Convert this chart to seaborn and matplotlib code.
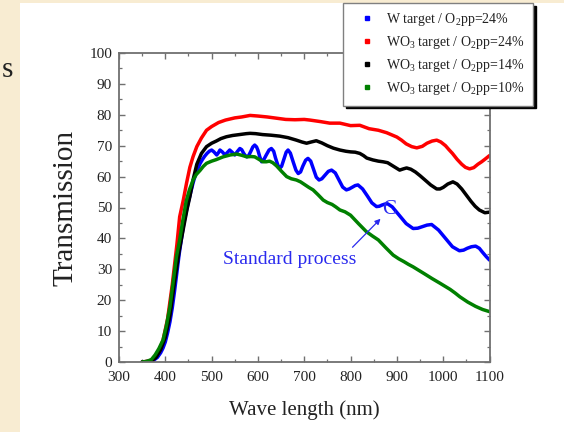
import matplotlib
matplotlib.use("Agg")
import matplotlib.pyplot as plt
from matplotlib.lines import Line2D
from matplotlib.patches import Rectangle
from matplotlib.ticker import MultipleLocator
import pandas as pd
import seaborn as sns

# ---- transmission spectra (wavelength in nm, transmission in %) ----
wl_w24 = [350, 365, 375, 383, 390, 395, 400, 405, 410, 415, 420, 425, 430, 435,
          440, 445, 450, 455, 460, 465, 470, 475, 480, 485, 490, 495, 500, 505,
          511, 515, 518, 523, 529, 534, 539, 545, 550, 556, 561, 565, 569, 573,
          576, 580, 585, 589, 593, 597, 600, 604, 608, 612, 618, 624, 629, 634,
          638, 643, 647, 651, 656, 661, 665, 670, 676, 682, 687, 692, 697, 703,
          708, 714, 720, 726, 732, 738, 745, 752, 759, 767, 775, 783, 791, 797,
          803, 810, 816, 826, 836, 846, 856, 862, 868, 874, 880, 890, 905, 920,
          935, 945, 955, 965, 975, 990, 1005, 1020, 1035, 1044, 1052, 1061, 1070,
          1078, 1085, 1093, 1100]
t_w24 = [0, 0.2, 0.6, 1.5, 3, 4.5, 6.5, 9.5, 13, 17.5, 23, 29, 35, 40,
         45, 48.5, 52, 55, 58, 60.5, 62.5, 64.2, 65.5, 66.6, 67.5, 68.2, 68.6, 68,
         67, 67.8, 68.6, 68, 67, 67.8, 68.6, 67.8, 67, 68.2, 69.1, 68.7, 67.6, 66.7,
         66.4, 66.8, 68.3, 69.6, 70.2, 69.6, 68.5, 66.4, 64.8, 65.3, 67, 68.6, 69.1, 68.2,
         66, 63.7, 62.7, 63.3, 65.6, 67.9, 68.6, 67.6, 64.8, 62.1, 61, 61.5, 63.4, 65.3,
         65.9, 65, 62.4, 59.8, 58.9, 59.3, 60.5, 61.7, 62.1, 61.2, 58.9, 56.6, 55.7, 56,
         56.5, 57.1, 57.3, 56, 53.8, 51.5, 50.3, 50.4, 50.8, 51.1, 51.2, 50.2, 47.5, 44.8,
         43.2, 43.3, 43.8, 44.3, 44.5, 42.7, 40, 37.3, 36, 36.2, 36.8, 37.3, 37.5,
         36.8, 35.5, 34.1, 33]

wl_wo3_24 = [350, 365, 375, 385, 395, 405, 415, 425, 431, 439, 446, 453, 460, 468,
             478, 489, 500, 515, 530, 550, 565, 583, 600, 620, 640, 660, 680, 700,
             712, 735, 755, 777, 800, 820, 840, 860, 878, 900, 910, 920, 932, 943,
             955, 965, 976, 986, 995, 1005, 1012, 1020, 1030, 1040, 1048, 1057, 1066,
             1075, 1083, 1090, 1100]
t_wo3_24 = [0, 0.3, 1, 3, 7, 14, 25, 38, 47, 52.5, 58, 63, 66.5, 69.7,
            72.5, 75, 76.2, 77.5, 78.3, 79, 79.3, 79.8, 79.6, 79.3, 78.9, 78.5, 78.4, 78.5,
            78.3, 77.8, 77.3, 77.3, 76.5, 76.6, 75.5, 75, 74.2, 72.8, 71.8, 70.6, 69.7, 69.3,
            69.8, 70.8, 71.5, 71.8, 71.2, 70, 68.8, 67.5, 65.6, 64, 63, 62.5, 62.9,
            64, 64.8, 65.6, 66.8]

wl_wo3_14 = [350, 370, 380, 390, 400, 410, 420, 430, 440, 447, 453, 460, 468, 478,
             489, 500, 510, 520, 532, 545, 560, 575, 583, 595, 610, 628, 647, 665,
             683, 695, 705, 715, 726, 738, 750, 763, 777, 790, 800, 810, 820, 828,
             835, 848, 860, 870, 880, 893, 906, 914, 921, 930, 940, 950, 960, 973,
             986, 993, 1000, 1010, 1021, 1030, 1040, 1050, 1060, 1069, 1078, 1090, 1100]
t_wo3_14 = [0, 0.3, 1.5, 4, 8, 15, 26, 36, 44, 49.5, 53.5, 59, 64, 67.5,
            69.7, 70.8, 71.5, 72.3, 72.9, 73.3, 73.6, 73.9, 74, 73.9, 73.6, 73.4, 73.1, 72.6,
            71.8, 71.2, 70.8, 71.2, 71.6, 70.9, 70, 69.2, 68.6, 68.2, 68, 67.9, 67.5, 66.8,
            66, 65.4, 65, 64.8, 64.5, 63.3, 62.1, 62.5, 62.8, 62.4, 61.5, 60.3, 59, 57.3,
            56, 56, 56.5, 57.6, 58.3, 57.6, 56, 54, 52, 50.4, 49.2, 48.3, 48.5]

wl_wo3_10 = [350, 360, 370, 378, 386, 395, 402, 410, 417, 424, 431, 438, 445, 452,
             460, 467, 475, 482, 489, 500, 510, 525, 540, 554, 565, 576, 585, 593,
             602, 611, 618, 625, 632, 640, 651, 662, 672, 683, 692, 700, 710, 719,
             730, 741, 750, 760, 768, 777, 788, 800, 817, 834, 847, 860, 876, 892,
             904, 915, 925, 935, 948, 960, 976, 993, 1004, 1015, 1026, 1036, 1053,
             1070, 1085, 1100]
t_wo3_10 = [0, 0.2, 0.8, 2.3, 4.3, 7.1, 11.5, 17.9, 26, 34.1, 39.5, 46, 52, 55.7,
            58.9, 60.7, 62, 63.3, 64.3, 65, 65.5, 66.4, 67, 67.3, 66.9, 66.4, 66.5, 66.4,
            65.6, 64.8, 64.8, 65, 64.5, 63.5, 61.7, 60, 59.3, 58.9, 58.3, 57.5, 56.5, 55.7,
            54.1, 52.4, 51.6, 51, 50.2, 49.2, 48.6, 47.5, 44.8, 42.2, 40.8, 39.5, 37, 34.6,
            33.4, 32.5, 31.6, 30.8, 29.6, 28.5, 27, 25.5, 24.5, 23.5, 22.3, 21.1, 19.4,
            18, 17, 16.3]

labels = ["W target / O$_2$pp=24%",
          "WO$_3$ target / O$_2$pp=24%",
          "WO$_3$ target / O$_2$pp=14%",
          "WO$_3$ target / O$_2$pp=10%"]
colors = ["#0000ff", "#ff0000", "#000000", "#008000"]

series = [(wl_w24, t_w24), (wl_wo3_24, t_wo3_24), (wl_wo3_14, t_wo3_14), (wl_wo3_10, t_wo3_10)]
frames = [pd.DataFrame({"wl": w, "T": t, "sample": lab}) for (w, t), lab in zip(series, labels)]
df = pd.concat(frames, ignore_index=True)

sns.set_theme(style="ticks")
plt.rcParams["font.family"] = ["Liberation Serif", "DejaVu Serif"]
plt.rcParams["mathtext.fontset"] = "custom"
plt.rcParams["mathtext.rm"] = "Liberation Serif"
plt.rcParams["mathtext.it"] = "Liberation Serif:italic"

W, H = 564, 432
fig = plt.figure(figsize=(W / 100, H / 100), dpi=100)
fig.patch.set_facecolor("white")
beige = "#f8ecd2"
fig.patches.append(Rectangle((0, 0), 20 / W, 1, transform=fig.transFigure,
                             facecolor=beige, edgecolor="none", zorder=-10))
fig.patches.append(Rectangle((0, 1 - 3 / H), 1, 3 / H, transform=fig.transFigure,
                             facecolor=beige, edgecolor="none", zorder=-10))
fig.text(2 / W, 1 - 70 / H, "s", fontsize=21, va="center", ha="left", color="#222222")

ax = fig.add_axes([119 / W, 1 - 362 / H, (489.5 - 119) / W, (362 - 53) / H])
sns.lineplot(data=df, x="wl", y="T", hue="sample", hue_order=labels, palette=colors,
             estimator=None, sort=True, linewidth=2.5, legend=False, ax=ax)
for ln in ax.get_lines():
    ln.set_solid_joinstyle("round")
    ln.set_solid_capstyle("round")

ax.set_xlim(300, 1100)
ax.set_ylim(0, 100)
ax.xaxis.set_major_locator(MultipleLocator(100))
ax.xaxis.set_minor_locator(MultipleLocator(50))
ax.yaxis.set_major_locator(MultipleLocator(10))
ax.yaxis.set_minor_locator(MultipleLocator(5))
ax.tick_params(which="both", direction="in", top=True, right=True, color="#707070",
               labelsize=11, labelcolor="#222222")
ax.tick_params(which="major", length=4.5, width=1.0)
ax.tick_params(which="minor", length=2.5, width=0.9)
ax.tick_params(axis="x", which="major", pad=6.5)
ax.tick_params(axis="y", which="major", pad=5)
for sp in ax.spines.values():
    sp.set_visible(True)
    sp.set_color("#707070")
    sp.set_linewidth(1.3)

ax.set_xlabel("Wave length (nm)", fontsize=15, color="#222222", labelpad=12)
ax.set_ylabel("Transmission", fontsize=21, color="#222222", labelpad=8)

# annotation of the standard-process curve
ax.text(669, 33.2, "Standard process", color="#2a2aee", fontsize=14, ha="center", va="center")
ax.annotate("", xy=(869, 47), xytext=(800, 36.5),
            arrowprops=dict(arrowstyle="-|>", color="#2a2aee", lw=0.9, mutation_scale=8))
ax.text(883, 49.5, "C", color="#2a2aee", fontsize=15, ha="center", va="center")

handles = [Line2D([], [], marker="s", markersize=3, linestyle="none", color=c) for c in colors]
leg = fig.legend(handles, labels, loc="upper left", bbox_to_anchor=(343 / W, 1 - 3 / H),
                 bbox_transform=fig.transFigure, fontsize=10, frameon=True, fancybox=False,
                 shadow={"color": "black", "alpha": 1.0}, handlelength=2.3, handletextpad=0.2,
                 borderpad=0.6, labelspacing=0.43, borderaxespad=0)
leg.get_frame().set_edgecolor("#808080")
leg.get_frame().set_linewidth(1.0)
leg.get_frame().set_facecolor("white")
leg.get_frame().set_alpha(1.0)
for t in leg.get_texts():
    t.set_color("#222222")

fig.savefig("out.png", dpi=100)
